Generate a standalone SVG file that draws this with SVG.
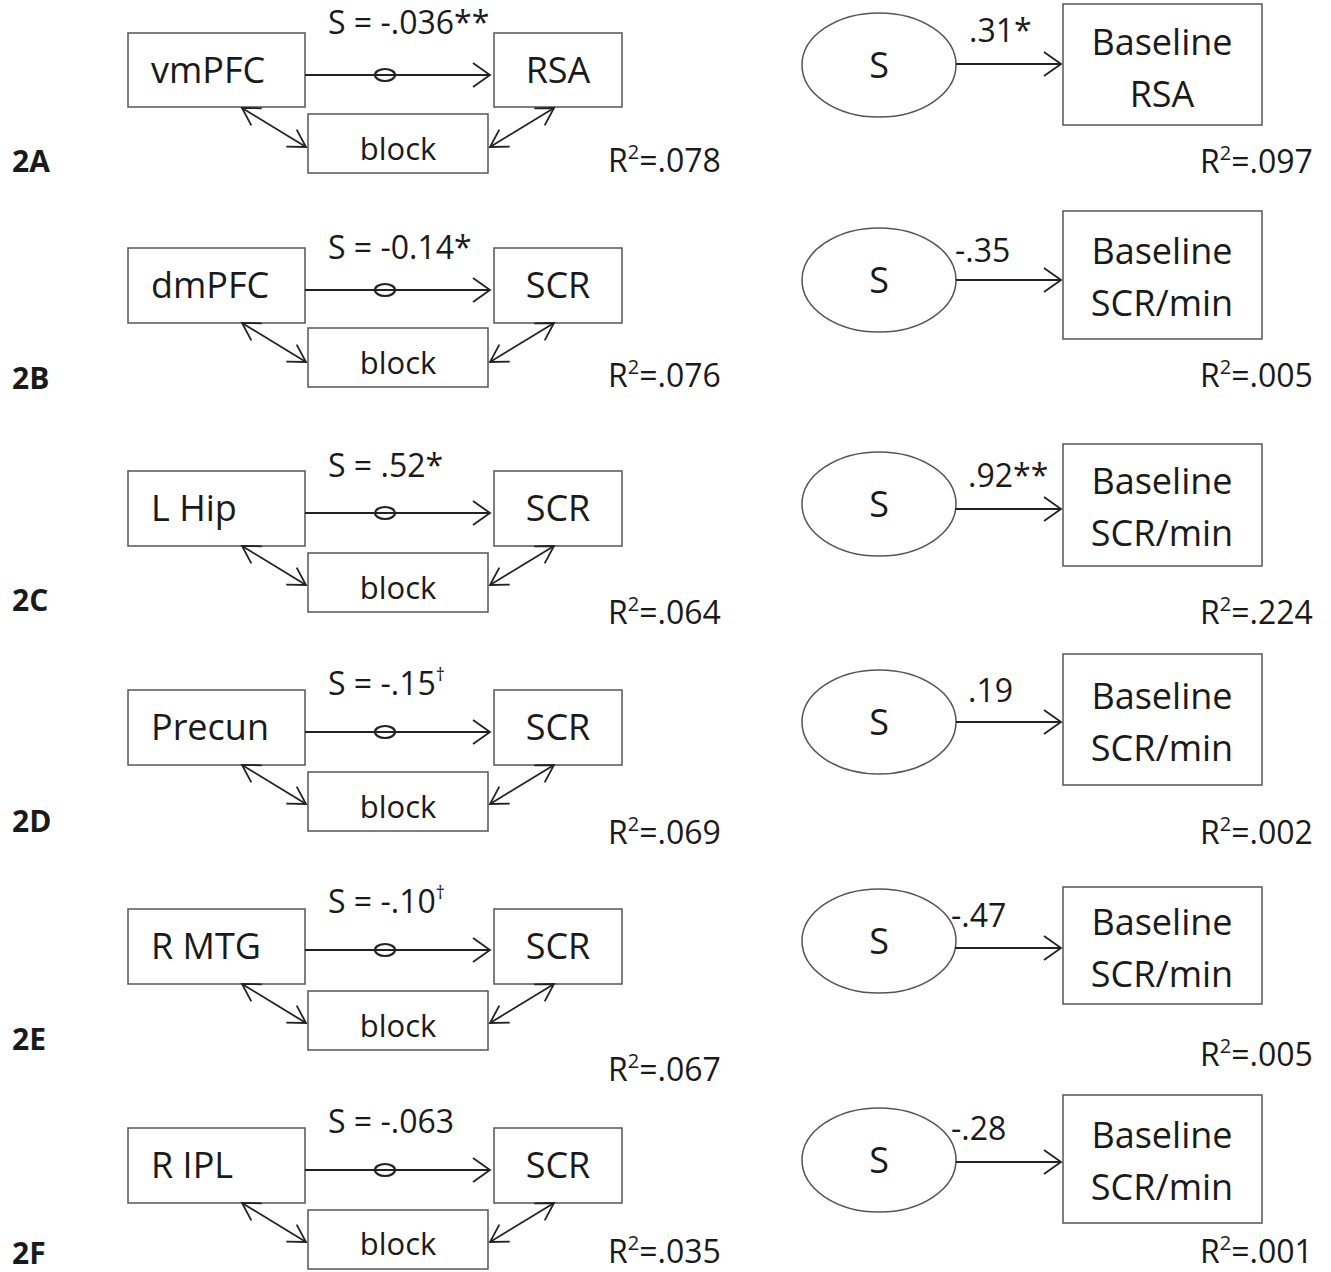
<svg xmlns="http://www.w3.org/2000/svg" width="1331" height="1272" viewBox="0 0 1331 1272">
<style>
text{font-family:"Open Sans","Noto Sans",sans-serif;fill:#1a1a1a}
.node{font-size:36px}
.blk{font-size:31px}
.lbl{font-size:32px}
.r2{font-size:32px}
.tag{font-size:30px;font-weight:bold}
.box{fill:#fff;stroke:#555;stroke-width:1.5}
.ell{fill:#fff;stroke:#555;stroke-width:1.5}
.ar{fill:none;stroke:#222;stroke-width:1.8}
.dot{fill:none;stroke:#222;stroke-width:2.2}
.mid{text-anchor:middle}
</style>
<defs>
<marker id="ah" viewBox="0 0 20 26" refX="18" refY="13" markerWidth="20" markerHeight="26" markerUnits="userSpaceOnUse" orient="auto-start-reverse">
<path d="M1,1 L18,13 L1,25" fill="none" stroke="#222" stroke-width="1.8"/>
</marker>
<marker id="ah2" viewBox="0 0 20 22" refX="18" refY="11" markerWidth="20" markerHeight="22" markerUnits="userSpaceOnUse" orient="auto-start-reverse">
<path d="M1,1 L18,11 L1,21" fill="none" stroke="#222" stroke-width="1.8"/>
</marker>
</defs>

<!-- Row labels -->
<g id="tags">
<text class="tag" x="12" y="172">2A</text>
<text class="tag" x="12" y="389">2B</text>
<text class="tag" x="12" y="611">2C</text>
<text class="tag" x="12" y="832">2D</text>
<text class="tag" x="12" y="1050">2E</text>
<text class="tag" x="12" y="1264">2F</text>
</g>

<!-- ===== Left column nodes ===== -->
<g id="node-vmPFC"><rect class="box" x="128" y="33" width="177" height="74"/><text class="node" x="151" y="83">vmPFC</text></g>
<g id="node-RSA-A"><rect class="box" x="494" y="33" width="128" height="74"/><text class="node mid" x="558" y="83">RSA</text></g>
<g id="node-block-A"><rect class="box" x="308" y="114" width="180" height="59"/><text class="blk mid" x="398" y="160">block</text></g>

<g id="node-dmPFC"><rect class="box" x="128" y="248" width="177" height="75"/><text class="node" x="151" y="298">dmPFC</text></g>
<g id="node-SCR-B"><rect class="box" x="494" y="248" width="128" height="75"/><text class="node mid" x="558" y="298">SCR</text></g>
<g id="node-block-B"><rect class="box" x="308" y="328" width="180" height="59"/><text class="blk mid" x="398" y="374">block</text></g>

<g id="node-LHip"><rect class="box" x="128" y="471" width="177" height="75"/><text class="node" x="151" y="521">L Hip</text></g>
<g id="node-SCR-C"><rect class="box" x="494" y="471" width="128" height="75"/><text class="node mid" x="558" y="521">SCR</text></g>
<g id="node-block-C"><rect class="box" x="308" y="553" width="180" height="59"/><text class="blk mid" x="398" y="599">block</text></g>

<g id="node-Precun"><rect class="box" x="128" y="690" width="177" height="75"/><text class="node" x="151" y="740">Precun</text></g>
<g id="node-SCR-D"><rect class="box" x="494" y="690" width="128" height="75"/><text class="node mid" x="558" y="740">SCR</text></g>
<g id="node-block-D"><rect class="box" x="308" y="772" width="180" height="59"/><text class="blk mid" x="398" y="818">block</text></g>

<g id="node-RMTG"><rect class="box" x="128" y="909" width="177" height="75"/><text class="node" x="151" y="959">R MTG</text></g>
<g id="node-SCR-E"><rect class="box" x="494" y="909" width="128" height="75"/><text class="node mid" x="558" y="959">SCR</text></g>
<g id="node-block-E"><rect class="box" x="308" y="991" width="180" height="59"/><text class="blk mid" x="398" y="1037">block</text></g>

<g id="node-RIPL"><rect class="box" x="128" y="1128" width="177" height="75"/><text class="node" x="151" y="1178">R IPL</text></g>
<g id="node-SCR-F"><rect class="box" x="494" y="1128" width="128" height="75"/><text class="node mid" x="558" y="1178">SCR</text></g>
<g id="node-block-F"><rect class="box" x="308" y="1210" width="180" height="59"/><text class="blk mid" x="398" y="1255">block</text></g>

<!-- ===== Right column nodes ===== -->
<g id="node-S-A"><ellipse class="ell" cx="879" cy="65" rx="77" ry="52"/><text class="node mid" x="879" y="78">S</text></g>
<g id="node-base-A"><rect class="box" x="1063" y="4" width="199" height="121"/><text class="node mid" x="1162" y="55">Baseline</text><text class="node mid" x="1162" y="107">RSA</text></g>

<g id="node-S-B"><ellipse class="ell" cx="879" cy="280" rx="77" ry="52"/><text class="node mid" x="879" y="293">S</text></g>
<g id="node-base-B"><rect class="box" x="1063" y="211" width="199" height="128"/><text class="node mid" x="1162" y="264">Baseline</text><text class="node mid" x="1162" y="316">SCR/min</text></g>

<g id="node-S-C"><ellipse class="ell" cx="879" cy="504" rx="77" ry="52"/><text class="node mid" x="879" y="517">S</text></g>
<g id="node-base-C"><rect class="box" x="1063" y="444" width="199" height="122"/><text class="node mid" x="1162" y="494">Baseline</text><text class="node mid" x="1162" y="546">SCR/min</text></g>

<g id="node-S-D"><ellipse class="ell" cx="879" cy="722" rx="77" ry="52"/><text class="node mid" x="879" y="735">S</text></g>
<g id="node-base-D"><rect class="box" x="1063" y="654" width="199" height="131"/><text class="node mid" x="1162" y="709">Baseline</text><text class="node mid" x="1162" y="761">SCR/min</text></g>

<g id="node-S-E"><ellipse class="ell" cx="879" cy="941" rx="77" ry="52"/><text class="node mid" x="879" y="954">S</text></g>
<g id="node-base-E"><rect class="box" x="1063" y="887" width="199" height="117"/><text class="node mid" x="1162" y="935">Baseline</text><text class="node mid" x="1162" y="987">SCR/min</text></g>

<g id="node-S-F"><ellipse class="ell" cx="879" cy="1160" rx="77" ry="52"/><text class="node mid" x="879" y="1173">S</text></g>
<g id="node-base-F"><rect class="box" x="1063" y="1095" width="199" height="128"/><text class="node mid" x="1162" y="1148">Baseline</text><text class="node mid" x="1162" y="1200">SCR/min</text></g>

<!-- ===== Connectors ===== -->
<g id="connectors">
<line class="ar" x1="305" y1="75" x2="490" y2="75" marker-end="url(#ah)"/>
<line class="ar" x1="305" y1="290" x2="490" y2="290" marker-end="url(#ah)"/>
<line class="ar" x1="305" y1="513" x2="490" y2="513" marker-end="url(#ah)"/>
<line class="ar" x1="305" y1="732" x2="490" y2="732" marker-end="url(#ah)"/>
<line class="ar" x1="305" y1="950" x2="490" y2="950" marker-end="url(#ah)"/>
<line class="ar" x1="305" y1="1170" x2="490" y2="1170" marker-end="url(#ah)"/>
<ellipse class="dot" cx="385" cy="75" rx="10" ry="6"/>
<ellipse class="dot" cx="385" cy="290" rx="10" ry="6"/>
<ellipse class="dot" cx="385" cy="513" rx="10" ry="6"/>
<ellipse class="dot" cx="385" cy="732" rx="10" ry="6"/>
<ellipse class="dot" cx="385" cy="950" rx="10" ry="6"/>
<ellipse class="dot" cx="385" cy="1170" rx="10" ry="6"/>
<line class="ar" x1="242" y1="108" x2="306" y2="147" marker-start="url(#ah2)" marker-end="url(#ah2)"/>
<line class="ar" x1="554" y1="108" x2="490" y2="147" marker-start="url(#ah2)" marker-end="url(#ah2)"/>
<line class="ar" x1="242" y1="323" x2="306" y2="362" marker-start="url(#ah2)" marker-end="url(#ah2)"/>
<line class="ar" x1="554" y1="323" x2="490" y2="362" marker-start="url(#ah2)" marker-end="url(#ah2)"/>
<line class="ar" x1="242" y1="546" x2="306" y2="585" marker-start="url(#ah2)" marker-end="url(#ah2)"/>
<line class="ar" x1="554" y1="546" x2="490" y2="585" marker-start="url(#ah2)" marker-end="url(#ah2)"/>
<line class="ar" x1="242" y1="765" x2="306" y2="804" marker-start="url(#ah2)" marker-end="url(#ah2)"/>
<line class="ar" x1="554" y1="765" x2="490" y2="804" marker-start="url(#ah2)" marker-end="url(#ah2)"/>
<line class="ar" x1="242" y1="984" x2="306" y2="1023" marker-start="url(#ah2)" marker-end="url(#ah2)"/>
<line class="ar" x1="554" y1="984" x2="490" y2="1023" marker-start="url(#ah2)" marker-end="url(#ah2)"/>
<line class="ar" x1="242" y1="1203" x2="306" y2="1242" marker-start="url(#ah2)" marker-end="url(#ah2)"/>
<line class="ar" x1="554" y1="1203" x2="490" y2="1242" marker-start="url(#ah2)" marker-end="url(#ah2)"/>
<line class="ar" x1="956" y1="64" x2="1061" y2="64" marker-end="url(#ah)"/>
<line class="ar" x1="956" y1="280" x2="1061" y2="280" marker-end="url(#ah)"/>
<line class="ar" x1="955" y1="509" x2="1061" y2="509" marker-end="url(#ah)"/>
<line class="ar" x1="956" y1="722" x2="1061" y2="722" marker-end="url(#ah)"/>
<line class="ar" x1="955" y1="948" x2="1061" y2="948" marker-end="url(#ah)"/>
<line class="ar" x1="956" y1="1162" x2="1061" y2="1162" marker-end="url(#ah)"/>
</g>

<!-- ===== Path labels ===== -->
<g id="labels">
<text class="lbl" x="328" y="34">S = -.036**</text>
<text class="lbl" x="328" y="259">S = -0.14*</text>
<text class="lbl" x="328" y="477">S = .52*</text>
<text class="lbl" x="328" y="695">S = -.15<tspan font-size="18" dy="-14">†</tspan></text>
<text class="lbl" x="328" y="913">S = -.10<tspan font-size="18" dy="-14">†</tspan></text>
<text class="lbl" x="328" y="1133">S = -.063</text>

<text class="lbl" x="969" y="42">.31*</text>
<text class="lbl" x="955" y="262">-.35</text>
<text class="lbl" x="968" y="487">.92**</text>
<text class="lbl" x="968" y="702">.19</text>
<text class="lbl" x="951" y="927">-.47</text>
<text class="lbl" x="951" y="1140">-.28</text>

<text class="r2" x="608" y="172">R<tspan font-size="20" dy="-13">2</tspan><tspan dy="13">=.078</tspan></text>
<text class="r2" x="608" y="387">R<tspan font-size="20" dy="-13">2</tspan><tspan dy="13">=.076</tspan></text>
<text class="r2" x="608" y="624">R<tspan font-size="20" dy="-13">2</tspan><tspan dy="13">=.064</tspan></text>
<text class="r2" x="608" y="844">R<tspan font-size="20" dy="-13">2</tspan><tspan dy="13">=.069</tspan></text>
<text class="r2" x="608" y="1081">R<tspan font-size="20" dy="-13">2</tspan><tspan dy="13">=.067</tspan></text>
<text class="r2" x="608" y="1263">R<tspan font-size="20" dy="-13">2</tspan><tspan dy="13">=.035</tspan></text>

<text class="r2" x="1200" y="173">R<tspan font-size="20" dy="-13">2</tspan><tspan dy="13">=.097</tspan></text>
<text class="r2" x="1200" y="387">R<tspan font-size="20" dy="-13">2</tspan><tspan dy="13">=.005</tspan></text>
<text class="r2" x="1200" y="624">R<tspan font-size="20" dy="-13">2</tspan><tspan dy="13">=.224</tspan></text>
<text class="r2" x="1200" y="844">R<tspan font-size="20" dy="-13">2</tspan><tspan dy="13">=.002</tspan></text>
<text class="r2" x="1200" y="1066">R<tspan font-size="20" dy="-13">2</tspan><tspan dy="13">=.005</tspan></text>
<text class="r2" x="1200" y="1263">R<tspan font-size="20" dy="-13">2</tspan><tspan dy="13">=.001</tspan></text>
</g>
</svg>
